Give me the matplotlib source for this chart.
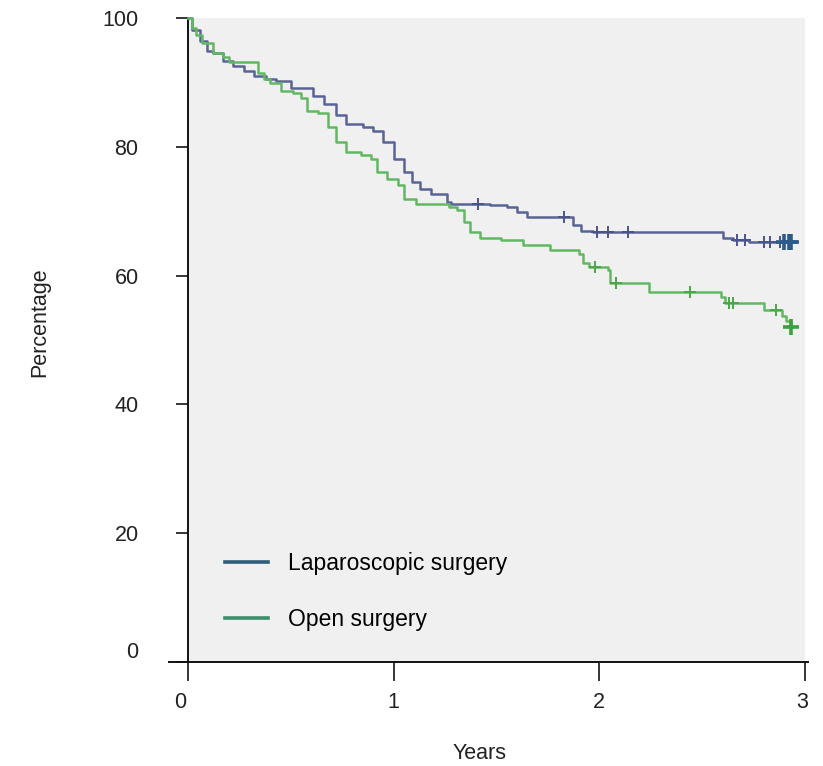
import numpy as np
import matplotlib
matplotlib.use('Agg')
import matplotlib.pyplot as plt
from matplotlib.lines import Line2D
from matplotlib.transforms import ScaledTranslation

plt.rcParams['font.family'] = ['Liberation Sans', 'DejaVu Sans']

# Kaplan-Meier steps (years, percentage)
lap_times = [0, 0.02, 0.06, 0.09, 0.12, 0.17, 0.22, 0.27, 0.32, 0.38, 0.43,
             0.50, 0.61, 0.66, 0.72, 0.77, 0.85, 0.90, 0.95, 1.00, 1.05,
             1.09, 1.13, 1.18, 1.26, 1.28, 1.47, 1.55, 1.60, 1.65, 1.87,
             1.91, 1.97, 2.60, 2.65, 2.73]
lap_surv = [100, 98.1, 96.5, 94.9, 94.5, 93.4, 92.6, 91.8, 91.0, 90.6, 90.2,
            89.1, 87.9, 86.6, 85.0, 83.5, 83.1, 82.4, 80.8, 78.1, 76.1,
            74.5, 73.4, 72.7, 71.4, 71.1, 70.9, 70.6, 69.8, 69.1, 67.8,
            67.0, 66.7, 65.9, 65.6, 65.2]
lap_end = 2.95
lap_censor = [1.41, 1.83, 1.99, 2.04, 2.14, 2.67, 2.71, 2.80, 2.83, 2.88]
lap_censor_last = [2.90, 2.92, 2.93]

open_times = [0, 0.02, 0.04, 0.07, 0.12, 0.17, 0.20, 0.34, 0.37, 0.40, 0.45,
              0.51, 0.55, 0.58, 0.63, 0.68, 0.72, 0.77, 0.84, 0.89, 0.92,
              0.97, 1.02, 1.05, 1.11, 1.27, 1.31, 1.34, 1.37, 1.42, 1.52,
              1.63, 1.76, 1.90, 1.92, 1.95, 2.04, 2.05, 2.24, 2.59, 2.61,
              2.80, 2.89, 2.91, 2.93]
open_surv = [100, 98.5, 97.3, 96.1, 94.5, 93.9, 93.1, 91.5, 90.6, 89.9, 88.7,
             88.3, 87.6, 85.5, 85.2, 83.1, 80.8, 79.2, 78.8, 78.1, 76.1,
             75.0, 74.1, 71.9, 71.1, 70.6, 70.2, 68.3, 66.7, 65.9, 65.5,
             64.7, 63.9, 63.3, 62.0, 61.3, 60.9, 58.9, 57.5, 56.6, 55.8,
             54.7, 53.8, 53.0, 52.0]
open_end = 2.935
open_censor = [1.98, 2.08, 2.44, 2.63, 2.65, 2.86]
open_censor_last = [2.93]

labels = ['Laparoscopic surgery', 'Open surgery']
xticks = [0, 1, 2, 3]
yticks = [0, 20, 40, 60, 80, 100]


def value_at(times, surv, t):
    idx = np.searchsorted(times, t, side='right') - 1
    return np.asarray(surv)[idx]


def draw_curve(ax, times, surv, end, censor, censor_last, color, mcolor,
               lastcolor):
    x = list(times) + [end]
    y = list(surv) + [surv[-1]]
    ax.step(x, y, where='post', color=color, lw=1.8, clip_on=False,
            zorder=3)
    ax.plot(censor, value_at(times, surv, censor), '+', color=mcolor,
            ms=9, mew=1.4, zorder=4, clip_on=False)
    ax.plot(censor_last, value_at(times, surv, censor_last), '+',
            color=lastcolor, ms=11, mew=2.6, zorder=4, clip_on=False)


def nudge(label, fig, dx, dy):
    # shift a single tick label by some pixels
    off = ScaledTranslation(dx / fig.dpi, dy / fig.dpi, fig.dpi_scale_trans)
    label.set_transform(label.get_transform() + off)


def main():
    fig = plt.figure(figsize=(8.23, 7.66), dpi=100)
    ax = fig.add_axes([188 / 823, 1 - 662 / 766, 617 / 823, 644 / 766])
    ax.set_facecolor('#f0f0f0')

    draw_curve(ax, lap_times, lap_surv, lap_end, lap_censor, lap_censor_last,
               '#5a6396', '#4a5488', '#2d5a8c')
    draw_curve(ax, open_times, open_surv, open_end, open_censor,
               open_censor_last, '#62b862', '#4aa84a', '#3ca03c')

    ax.set_xlim(0, 3)
    ax.set_ylim(0, 100)
    ax.set_xticks(xticks)
    ax.set_yticks(yticks)
    ax.set_xticklabels([str(v) for v in xticks])
    ax.set_yticklabels([str(v) for v in yticks])

    for side in ('top', 'right'):
        ax.spines[side].set_visible(False)
    for side in ('left', 'bottom'):
        ax.spines[side].set_linewidth(1.4)
        ax.spines[side].set_color('#111111')
    ax.spines['bottom'].set_bounds(-0.092, 3.015)

    ax.tick_params(axis='x', direction='out', length=13.7, width=1.1,
                   pad=8, labelsize=15.5, labelcolor='#222222')
    ax.tick_params(axis='y', direction='out', length=8.6, width=1.1,
                   pad=27, labelsize=15.5, labelcolor='#222222')

    nudge(ax.yaxis.get_major_ticks()[0].label1, fig, 0, 12)
    nudge(ax.xaxis.get_major_ticks()[0].label1, fig, -8, 0)
    nudge(ax.xaxis.get_major_ticks()[-1].label1, fig, -3, 0)

    ax.set_xlabel('Years', fontsize=15.5, color='#222222')
    ax.xaxis.set_label_coords(0.473, -0.126)
    ax.set_ylabel('Percentage', fontsize=15.5, color='#222222')
    ax.yaxis.set_label_coords(-0.224, 0.528)

    handles = [Line2D([], [], color='#2e5d7b', lw=2.6),
               Line2D([], [], color='#3b8d6b', lw=2.6)]
    ax.legend(handles, labels, loc='upper left', bbox_to_anchor=(0.06, 0.171),
              frameon=False, fontsize=16.5, borderpad=0, borderaxespad=0,
              handlelength=1.88, handletextpad=0.87, labelspacing=1.45)

    fig.savefig('out.png', dpi=100)
    plt.close(fig)


if __name__ == '__main__':
    main()
